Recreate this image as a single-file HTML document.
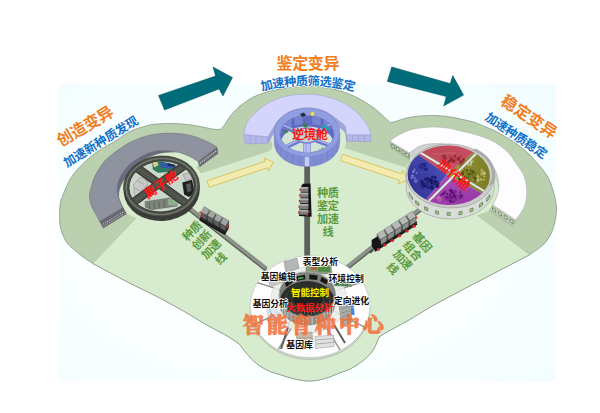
<!DOCTYPE html><html><head><meta charset="utf-8"><title>diagram</title><style>html,body{margin:0;padding:0;background:#fff;font-family:"Liberation Sans",sans-serif}svg{display:block}</style></head><body><svg width="600" height="413" viewBox="0 0 600 413"><defs><radialGradient id="bg" cx="0.45" cy="0.55" r="0.75"><stop offset="0" stop-color="#ffffff"/><stop offset="0.5" stop-color="#fbffff"/><stop offset="1" stop-color="#f2fdff"/></radialGradient><pattern id="gtex" width="3" height="3" patternUnits="userSpaceOnUse"><rect width="3" height="3" fill="#9195a2"/><path d="M0 0L3 3M3 0L0 3" stroke="#888c99" stroke-width="0.5"/></pattern><radialGradient id="qr" cx="0.5" cy="0.7" r="0.7"><stop offset="0" stop-color="#c04858"/><stop offset="1" stop-color="#d2687a"/></radialGradient><radialGradient id="qb" cx="0.6" cy="0.6" r="0.7"><stop offset="0" stop-color="#2a2a88"/><stop offset="0.6" stop-color="#4a4fb8"/><stop offset="1" stop-color="#8088d8"/></radialGradient><radialGradient id="qo" cx="0.4" cy="0.5" r="0.7"><stop offset="0" stop-color="#6f6f1e"/><stop offset="0.6" stop-color="#9a9a3c"/><stop offset="1" stop-color="#c0c080"/></radialGradient><radialGradient id="qp" cx="0.5" cy="0.4" r="0.7"><stop offset="0" stop-color="#8e30a0"/><stop offset="0.6" stop-color="#aa4cb8"/><stop offset="1" stop-color="#c67ad4"/></radialGradient></defs><rect x="58.8" y="83.7" width="497.2" height="297.8" fill="url(#bg)"/>
<path d="M92.7 263.5C91.2 262.5 87 259.9 84 257.7C81 255.4 77.3 252.6 74.4 250C71.5 247.4 68.9 245.9 66.6 242.3C64.3 238.8 62 233.2 60.8 228.7C59.6 224.1 59.6 219.4 59.6 215C59.6 210.6 59.9 205.3 60.5 202C61.1 198.7 61.7 198.2 63 195C64.3 191.8 66.1 186.8 68.3 182.7C70.5 178.6 73 174.7 76.3 170.7C79.6 166.7 84.1 162.4 88.3 158.7C92.5 155 97.2 151.6 101.7 148.7C106.2 145.8 110.3 144.2 115 141.3C119.7 138.4 124.9 134.1 130 131.5C135.1 128.9 141.9 127.2 145.8 126C149.8 124.8 149.7 124.7 153.7 124.3C157.7 123.9 164.3 123.5 169.6 123.5C174.9 123.5 180.1 123.8 185.4 124.3C190.7 124.8 196.4 125.9 201.2 126.7C206 127.5 210.8 128.9 214 129.3C217.2 129.7 219.4 129.3 220.5 129.3C221.2 128.5 223.7 126.1 225 124.3C226.3 122.5 227 120.6 228.5 118.5C230 116.4 232.1 113.9 234 111.8C235.9 109.7 237.9 107.8 240 106C242.1 104.2 244.5 102.5 246.8 101C249.1 99.5 251.3 98 253.6 96.9C255.8 95.8 258.1 95.1 260.3 94.2C262.6 93.3 264.8 92.5 267.1 91.8C269.4 91.1 271.8 90.5 273.9 90.1C276 89.6 277.3 89.5 280 89.1C282.7 88.7 286.7 87.9 290 87.5C293.3 87.1 296.7 86.8 300 86.6C303.3 86.4 306.3 86.1 310 86.2C313.7 86.3 317.8 86.4 322 87C326.2 87.6 331.1 88.7 335 89.6C338.9 90.5 341.8 91.4 345.2 92.6C348.6 93.8 351.9 95.1 355.3 96.7C358.7 98.3 362.1 100.2 365.5 102.3C368.9 104.4 372.6 107 375.7 109.4C378.8 111.8 381.4 114.4 383.8 116.6C386.2 118.8 389.3 121.7 390.4 122.7C391.2 122.5 392 122.5 395 121.6C398 120.7 404.1 118.5 408.6 117.5C413.1 116.5 417.6 116.2 422.1 115.9C426.6 115.6 431.2 115.3 435.7 115.5C440.2 115.7 444.7 116.1 449.2 116.8C453.7 117.5 458.5 118.5 462.8 119.5C467.1 120.5 472.1 121.6 475 122.5C477.9 123.4 477.6 123.7 480.2 124.7C482.8 125.8 486.9 127.3 490.3 128.8C493.7 130.3 497.1 132 500.5 133.9C503.9 135.8 507.3 137.8 510.7 140C514.1 142.2 517.9 144.8 520.9 147.1C523.9 149.4 526.5 151.6 529 154C531.5 156.4 533.3 158.8 535.6 161.4C537.9 164 540.7 167 542.7 169.6C544.7 172.2 546.2 174.1 547.8 177C549.3 179.9 550.6 182.7 552 187C553.4 191.3 555.3 198.2 556 203C556.7 207.8 556.7 210.9 556 215.7C555.3 220.4 554 226.8 552 231.5C550 236.2 547.7 240.1 544 244C540.3 247.9 532.1 252.9 529.7 254.7L460 291L432 306L409 320L386 332.5L379 337C378.2 338.8 376.4 344.2 374.5 347.5C372.6 350.8 371.1 353.4 367.6 356.7C364.2 359.9 358.4 364.3 353.8 367C349.2 369.7 344.8 370.9 340 372.8C335.2 374.7 330 377.1 325 378.5C320 379.9 315 380.9 310 381C305 381.1 300 380.1 295 379C290 377.9 284.5 376 280 374.6C275.5 373.2 271.9 372.3 268 370.5C264.1 368.7 260 366.3 256.6 363.6C253.2 360.9 250.3 357.7 247.4 354.4C244.5 351.1 240.7 345.7 239.3 344L229 337L206 324.5L183 310.7L160 298L130 283.3Z" fill="#bbd0ae" stroke="#808d7d" stroke-width="0.7" stroke-linejoin="round"/>
<path d="M92.7 263.5L136 218L126.6 213.7C123.5 212.2 112.1 210.6 108 205C103.9 199.4 100 188.8 102 180C104 171.2 109.5 158.5 120 152C130.5 145.5 151.7 141.3 165 141C178.3 140.7 194.3 146 200 150C205.7 154 199.2 162.5 199 165L196 167L201 173.5L268 151.6C268.6 151.2 270.8 150.4 271.5 149C272.2 147.6 272.6 145 272 143C271.4 141 268.7 138 268 137C268.7 134.5 268 127.2 272 122C276 116.8 283.7 108.7 292 106C300.3 103.3 313.7 103.7 322 106C330.3 108.3 337.9 114.1 342 120C346.1 125.9 345.8 137.9 346.6 141.5L344.5 148L405.5 167.5L410 161.5L409.5 159C411.2 157 414.2 150.7 420 147C425.8 143.3 435.7 138 444 137C452.3 136 462 137.2 470 141C478 144.8 486.5 152.7 492 160C497.5 167.3 502.2 178.3 503 185C503.8 191.7 499.3 195.7 497 200C494.7 204.3 490.7 208.9 489.4 210.7L477.4 215.5L529.7 254.7L460 291L432 306L409 320L386 332.5L379 337C378.2 338.8 376.4 344.2 374.5 347.5C372.6 350.8 371.1 353.4 367.6 356.7C364.2 359.9 358.4 364.3 353.8 367C349.2 369.7 344.8 370.9 340 372.8C335.2 374.7 330 377.1 325 378.5C320 379.9 315 380.9 310 381C305 381.1 300 380.1 295 379C290 377.9 284.5 376 280 374.6C275.5 373.2 271.9 372.3 268 370.5C264.1 368.7 260 366.3 256.6 363.6C253.2 360.9 250.3 357.7 247.4 354.4C244.5 351.1 240.7 345.7 239.3 344L229 337L206 324.5L183 310.7L160 298L130 283.3Z" fill="#d7ecce"/>
<path d="M92.7 263.5L136 218M477.4 215.5L529.7 254.7" stroke="#a9bba2" stroke-width="0.5" fill="none"/>
<path d="M529.7 254.7L460 291L432 306L409 320L386 332.5L379 337C378.2 338.8 376.4 344.2 374.5 347.5C372.6 350.8 371.1 353.4 367.6 356.7C364.2 359.9 358.4 364.3 353.8 367C349.2 369.7 344.8 370.9 340 372.8C335.2 374.7 330 377.1 325 378.5C320 379.9 315 380.9 310 381C305 381.1 300 380.1 295 379C290 377.9 284.5 376 280 374.6C275.5 373.2 271.9 372.3 268 370.5C264.1 368.7 260 366.3 256.6 363.6C253.2 360.9 250.3 357.7 247.4 354.4C244.5 351.1 240.7 345.7 239.3 344L229 337L206 324.5L183 310.7L160 298L130 283.3L92.7 263.5" fill="none" stroke="#808d7d" stroke-width="0.6"/>
<path d="M209.2 187.2L267.4 167.8L268.5 171.2L273.3 162.2L264.1 158L265.2 161.4L207 180.8Z" fill="#f3ecb2" stroke="#d8b946" stroke-width="0.8"/>
<path d="M340.5 160.7L399.6 180.3L398.4 183.9L407.8 179.5L402.9 170.4L401.7 174L342.7 154.3Z" fill="#f3ecb2" stroke="#d8b946" stroke-width="0.8"/>
<path d="M158.5 95.5L215.5 76L213 67L232.5 77.5L223 96L219 89L164.5 110Z" fill="#006c79" stroke="#00525c" stroke-width="0.5"/>
<path d="M391.7 66.9L450.2 83.6L452.8 75.6L463.6 95.1L443.7 105.9L446.3 96.6L387.3 81.4Z" fill="#006c79" stroke="#00525c" stroke-width="0.5"/>
<path d="M184.9 208.2L264.9 271.2L267.1 268.4L187.1 205.4Z" fill="#50534e"/><path d="M184.9 206.9L264.9 269.9L267.1 267.1L187.1 204.1Z" fill="#8d928b" stroke="#5c605a" stroke-width="0.4"/>
<path d="M304.7 163L304.7 257L309.7 257L309.7 163Z" fill="#3a3c3a"/><path d="M304.7 163L304.7 257L309.7 257L309.7 163Z" fill="#5d605d" stroke="#5c605a" stroke-width="0.4"/>
<path d="M423.9 204.9L344.9 267.9L347.1 270.7L426.1 207.7Z" fill="#50534e"/><path d="M423.9 203.6L344.9 266.6L347.1 269.4L426.1 206.4Z" fill="#8d928b" stroke="#5c605a" stroke-width="0.4"/>
<path d="M217 147.3L198 161.5L199.7 166.8L217.9 153.6Z" fill="#6c6c76" stroke="#55555e" stroke-width="0.4"/>
<path d="M200 163.2L217 150.5" stroke="#e8e8ee" stroke-width="1.5" stroke-dasharray="0.9 1.5" fill="none"/>
<path d="M99.7 221.4L122.9 207.6L126.6 213.7L103.3 227.9Z" fill="#686872" stroke="#55555e" stroke-width="0.4"/>
<path d="M102.8 224.2L124.6 211.2" stroke="#e8e8ee" stroke-width="1" stroke-dasharray="1 1.5" fill="none"/>
<path d="M103.6 226L125.6 212.9" stroke="#c8c8d0" stroke-width="0.5" fill="none"/>
<path d="M177.5 152C174.9 151.8 166.4 150.4 161.7 150.5C156.9 150.6 152.9 151.5 149 152.8C145.1 154.1 141.2 156.5 138 158.4C134.8 160.3 132.5 161.7 130 164C127.5 166.3 124.9 169.2 123 172C121.1 174.8 119.5 178.2 118.5 181C117.5 183.8 117.2 186.3 117.2 189C117.2 191.7 117.6 194.3 118.6 197.4C119.5 200.5 122.2 205.9 122.9 207.6L124.4 214.6C123.7 212.9 121 207.5 120.1 204.4C119.1 201.3 118.7 198.7 118.7 196C118.7 193.3 119 190.8 120 188C121 185.2 122.6 181.8 124.5 179C126.4 176.2 129.2 173.4 131.5 171C133.8 168.6 135.1 166.7 138 164.4C140.9 162.1 145.1 159.2 149 157.3C152.9 155.4 156.9 153.9 161.7 153C166.4 152.1 174.9 152.2 177.5 152Z" fill="#686c7c" stroke="#50505a" stroke-width="0.3"/>
<path d="M99.7 221.4C99 220.1 96.8 216.2 95.3 213.4C93.8 210.6 92 207.8 91 204.7C90 201.6 89.4 198.1 89.5 195C89.6 191.9 90.6 189.2 91.5 186C92.4 182.8 93.4 179.3 95 176C96.6 172.7 99 168.9 101 166C103 163.1 104 161.5 107 158.7C110 155.9 115.2 152 119 149.3C122.8 146.6 125.5 144.7 130 142.5C134.5 140.3 140.5 137.7 145.8 136.2C151.1 134.7 156.4 133.9 161.7 133.5C167 133.1 172.2 133.1 177.5 133.5C182.8 133.9 188 134.7 193.3 136.2C198.6 137.7 205.2 140.7 209.2 142.5C213.1 144.3 215.7 146.5 217 147.3L198 161.5C196.7 160.7 193.6 158.4 190.2 156.8C186.8 155.2 182.2 153.1 177.5 152C172.8 150.9 166.4 150.4 161.7 150.5C156.9 150.6 152.9 151.5 149 152.8C145.1 154.1 141.2 156.5 138 158.4C134.8 160.3 132.5 161.7 130 164C127.5 166.3 124.9 169.2 123 172C121.1 174.8 119.5 178.2 118.5 181C117.5 183.8 117.2 186.3 117.2 189C117.2 191.7 117.6 194.3 118.6 197.4C119.5 200.5 122.2 205.9 122.9 207.6Z" fill="url(#gtex)" stroke="#62626c" stroke-width="0.5"/>
<path d="M243.8 134.5L268 136.8L267.5 143.6L245 143.8Z" fill="#b3b6e6" stroke="#8f93c8" stroke-width="0.4"/>
<path d="M250 135.2V143.7M256 135.7V143.7M262 136.3V143.6" stroke="#8f93c8" stroke-width="0.5"/>
<path d="M346.6 134.7L370.8 134.7L370.8 141.5L346.6 141.5Z" fill="#b3b6e6" stroke="#8f93c8" stroke-width="0.4"/>
<path d="M352.5 134.7V141.5M358.5 134.7V141.5M364.5 134.7V141.5" stroke="#8f93c8" stroke-width="0.5"/>
<path d="M346.6 134.7C346.3 133.2 346.1 128.2 345 126C343.9 123.8 341.7 122.9 340 121.5C338.3 120.1 337 119 335 117.6C333 116.1 330.5 114.1 328 112.8C325.5 111.5 323.8 110.3 320 109.5C316.2 108.7 310 107.6 305 108C300 108.4 294.3 110.1 290 112C285.7 113.9 281.9 116.7 279 119.5C276.1 122.3 274.3 126.1 272.5 129C270.7 131.9 268.8 135.5 268 136.8L268 143.3C268.8 142 270.7 138.4 272.5 135.5C274.3 132.6 276.1 128.8 279 126C281.9 123.2 285.7 120.4 290 118.5C294.3 116.6 300 114.9 305 114.5C310 114.1 316.2 115.2 320 116C323.8 116.8 325.5 118 328 119.3C330.5 120.6 333 122.6 335 124.1C337 125.5 338.3 126.6 340 128C341.7 129.4 343.9 130.3 345 132.5C346.1 134.7 346.3 139.8 346.6 141.2Z" fill="#9ea4dc" stroke="#8f93c8" stroke-width="0.3"/>
<path d="M243.8 134.5C244.2 132.8 245.3 126.9 246.5 124C247.7 121.1 249.3 119 251 117C252.7 115 255.1 113.4 256.6 112C258.2 110.6 258.6 109.8 260.3 108.4C262.1 107 264.8 105.1 267.1 103.7C269.4 102.3 271.8 101.3 273.9 100.3C276 99.3 277.3 98.7 280 97.9C282.7 97.1 286.7 96.1 290 95.5C293.3 94.9 296.3 94.7 300 94.5C303.7 94.3 308 94.2 312 94.4C316 94.7 320.2 95.2 324 96C327.8 96.8 331.5 98 335 99.3C338.5 100.6 341.8 101.8 345.2 103.8C348.6 105.8 352.4 108.5 355.3 111C358.2 113.5 360.6 116.4 362.5 118.6C364.4 120.8 365.3 122.3 366.5 124.2C367.7 126.1 368.8 128.2 369.5 130C370.2 131.8 370.6 133.9 370.8 134.7L346.6 134.7C346.3 133.2 346.1 128.2 345 126C343.9 123.8 341.7 122.9 340 121.5C338.3 120.1 337 119 335 117.6C333 116.1 330.5 114.1 328 112.8C325.5 111.5 323.8 110.3 320 109.5C316.2 108.7 310 107.6 305 108C300 108.4 294.3 110.1 290 112C285.7 113.9 281.9 116.7 279 119.5C276.1 122.3 274.3 126.1 272.5 129C270.7 131.9 268.8 135.5 268 136.8Z" fill="#d5d4fd" stroke="#9a9cd0" stroke-width="0.5"/>
<path d="M492.7 205C493.4 203.5 495.9 199.3 497 196C498.1 192.7 499.2 189 499 185C498.8 181 497.7 175.8 496 172C494.3 168.2 492.5 165 489 162C485.5 159 479.4 156.4 475 154.1C470.6 151.8 467.1 149.6 462.8 148C458.5 146.4 453.7 145.3 449.2 144.6C444.7 143.8 440.2 143.4 435.7 143.5C431.2 143.6 426.2 144 422.1 145.3C418 146.6 413.4 150.1 411.3 151.4C409.2 152.7 409.8 152.7 409.5 153L409.5 159C409.8 158.7 409.2 158.7 411.3 157.4C413.4 156.1 418 152.6 422.1 151.3C426.2 150 431.2 149.6 435.7 149.5C440.2 149.4 444.7 149.8 449.2 150.6C453.7 151.3 458.5 152.4 462.8 154C467.1 155.6 470.6 157.8 475 160.1C479.4 162.4 485.5 165 489 168C492.5 171 494.3 174.2 496 178C497.7 181.8 498.8 187 499 191C499.2 195 498.1 198.7 497 202C495.9 205.3 493.4 209.5 492.7 211Z" fill="#cfd2cf" stroke="#a8aca8" stroke-width="0.3"/>
<path d="M390.2 141.5L409.5 153L409.5 159.6L391 147.8Z" fill="#c2ccbc" stroke="#7d877a" stroke-width="0.4"/>
<rect x="391.8" y="144.8" width="3" height="3" fill="#cfe0c2" stroke="#56764a" stroke-width="0.6" transform="translate(393.3 146.3) skewY(31) translate(-393.3 -146.3)"/>
<rect x="396.4" y="147.7" width="3" height="3" fill="#cfe0c2" stroke="#56764a" stroke-width="0.6" transform="translate(397.9 149.2) skewY(31) translate(-397.9 -149.2)"/>
<rect x="401.1" y="150.6" width="3" height="3" fill="#cfe0c2" stroke="#56764a" stroke-width="0.6" transform="translate(402.6 152.1) skewY(31) translate(-402.6 -152.1)"/>
<rect x="405.7" y="153.5" width="3" height="3" fill="#cfe0c2" stroke="#56764a" stroke-width="0.6" transform="translate(407.2 155) skewY(31) translate(-407.2 -155)"/>
<path d="M492.7 205L515.6 219.9L513.4 226.4L489.4 210.7Z" fill="#c2ccbc" stroke="#7d877a" stroke-width="0.4"/>
<rect x="492.6" y="208.4" width="3" height="3" fill="#cfe0c2" stroke="#56764a" stroke-width="0.6" transform="translate(494.1 209.9) skewY(33) translate(-494.1 -209.9)"/>
<rect x="498.4" y="212.2" width="3" height="3" fill="#cfe0c2" stroke="#56764a" stroke-width="0.6" transform="translate(499.9 213.7) skewY(33) translate(-499.9 -213.7)"/>
<rect x="504.2" y="215.9" width="3" height="3" fill="#cfe0c2" stroke="#56764a" stroke-width="0.6" transform="translate(505.7 217.4) skewY(33) translate(-505.7 -217.4)"/>
<rect x="510" y="219.7" width="3" height="3" fill="#cfe0c2" stroke="#56764a" stroke-width="0.6" transform="translate(511.5 221.2) skewY(33) translate(-511.5 -221.2)"/>
<path d="M390.2 141.5C391 140.8 391.9 139 395 137.2C398.1 135.3 404.1 132 408.6 130.4C413.1 128.8 417.6 128.3 422.1 127.7C426.6 127.1 431.2 126.9 435.7 127C440.2 127.1 444.7 127.6 449.2 128.3C453.7 129.1 458.5 130.5 462.8 131.5C467.1 132.5 470.4 133.1 475 134.5C479.6 135.9 486.1 138.1 490.3 140C494.6 141.9 497.3 143.8 500.5 146.1C503.7 148.4 507 151.3 509.5 154C512 156.7 513.5 159.9 515.3 162.5C517.1 165.1 518.8 167.2 520.3 169.6C521.8 172 523.4 174.1 524.4 177C525.4 179.9 526.1 183.5 526.4 187C526.7 190.5 526.9 194.3 526.4 198C525.9 201.7 525 205.3 523.2 209C521.4 212.7 516.9 218.1 515.6 219.9L492.7 205C493.4 203.5 495.9 199.3 497 196C498.1 192.7 499.2 189 499 185C498.8 181 497.7 175.8 496 172C494.3 168.2 492.5 165 489 162C485.5 159 479.4 156.4 475 154.1C470.6 151.8 467.1 149.6 462.8 148C458.5 146.4 453.7 145.3 449.2 144.6C444.7 143.8 440.2 143.4 435.7 143.5C431.2 143.6 426.2 144 422.1 145.3C418 146.6 413.4 150.1 411.3 151.4C409.2 152.7 409.8 152.7 409.5 153Z" fill="#fdfcff" stroke="#a7aaa7" stroke-width="0.5"/>
<g transform="rotate(-4 161.5 186.5)">
<ellipse cx="161.5" cy="190.5" rx="38" ry="30.5" fill="#3b3e39"/>
<ellipse cx="161.5" cy="186.5" rx="38" ry="30.5" fill="#494d46" stroke="#2a2d29" stroke-width="0.6"/>
<ellipse cx="161.5" cy="186.5" rx="32.6" ry="25.4" fill="#cad7c9" stroke="#2f322e" stroke-width="0.8"/>
<clipPath id="lp"><ellipse cx="161.5" cy="186.5" rx="32.6" ry="25.4"/></clipPath>
<g clip-path="url(#lp)">
<path d="M154 163L160 160.5L177 166L176 172.5L159 172.5L154 169Z" fill="#2f7a60"/>
<path d="M162 161.5L175 165.5L175 170L162 167.5Z" fill="#3457a8"/>
<path d="M154.5 162L159 160.5L160 165L155.5 167Z" fill="#d9c98e"/>
<path d="M169 163.5L176.5 166L176.5 168L169 166Z" fill="#1d2a4a"/>
<path d="M134 182L141 176L148 180L147 192L140 197L134 193Z" fill="#c9c9c9" stroke="#8a8a8a" stroke-width="0.5"/>
<path d="M134.5 186L140.5 190L147.5 184M140.5 190V196.5M137.5 179L144 183" stroke="#8a8a8a" stroke-width="0.5" fill="none"/>
<path d="M184 176L190 175L192.5 181L186 182.5Z" fill="#c4c4c4" stroke="#777" stroke-width="0.4"/>
<path d="M182.5 184L192.5 182L194 195L188 199L183.5 196Z" fill="#1f2120"/>
<path d="M186 186L191 185V193L187 194Z" fill="#555b58"/>
<path d="M144 200.5L168 198.5L176 201L176 207L150 209L144 206Z" fill="#7d857b" stroke="#4b4f49" stroke-width="0.4"/>
<path d="M167 199.5L176 201L176 206.5L167 206Z" fill="#8fb08a"/>
<path d="M148 201.5V208M153 201V208.5M158 200.5V208M163 200V207.5" stroke="#4b4f49" stroke-width="0.6"/>
<path d="M134 162.5L189 208.5M192.5 163L127 203.5" stroke="#2b2e2a" stroke-width="8.4" fill="none"/>
<path d="M134 162.5L189 208.5M192.5 163L127 203.5" stroke="#4d514a" stroke-width="6.6" fill="none"/>
<path d="M134 162.5L189 208.5M192.5 163L127 203.5" stroke="#6b7068" stroke-width="1" stroke-dasharray="1 2" fill="none"/>
</g>
<ellipse cx="161.5" cy="186.5" rx="35.4" ry="28" fill="none" stroke="#6b7067" stroke-width="1.6"/>
<ellipse cx="161.5" cy="186.5" rx="35.4" ry="28" fill="none" stroke="#9aa095" stroke-width="0.7" stroke-dasharray="0.8 2.4"/>
</g>
<path d="M274.3 133 V142.5 A32.7 24 0 0 0 339.7 142.5 V133Z" fill="#808cd3" stroke="#6d79c0" stroke-width="0.5"/>
<ellipse cx="307" cy="132.5" rx="32.7" ry="24.5" fill="#919de1" stroke="#6f7bc4" stroke-width="0.5"/>
<ellipse cx="307" cy="134" rx="27" ry="18.6" fill="#d3e4d6" stroke="#6d79c0" stroke-width="0.6"/>
<clipPath id="cp"><ellipse cx="307" cy="134" rx="27" ry="18.6"/></clipPath>
<g clip-path="url(#cp)">
<path d="M280 134 A27 18.6 0 0 1 334 134 L334 145 A27 18.6 0 0 0 280 145Z" fill="#5f6cc2"/>
<path d="M284 122.5l8-4.5v9l-8 4zM294 117l9-1.6v9l-9 1.6zM312 115.4l9 1.6v9l-9-1.6zM323 118l8 4.5v8.5l-8-4z" fill="#7683d2" stroke="#4f5cb0" stroke-width="0.4"/>
<path d="M307 137L279 124M307 137L335 123M307 137L280 150M307 137L336 148" stroke="#6f7ccb" stroke-width="4.4" fill="none"/>
<path d="M307 136L279 123M307 136L335 122M307 136L280 149M307 136L336 147" stroke="#aab4ee" stroke-width="1.4" fill="none"/>
<path d="M303.5 138V160H310.5V138Z" fill="#b4bdf0" stroke="#6d79c0" stroke-width="0.5"/>
<path d="M306 140V160" stroke="#8a95d6" stroke-width="0.6"/>
<ellipse cx="307" cy="135.5" rx="12" ry="7.5" fill="#c4d4d8" stroke="#7a86d0" stroke-width="1.6"/>
<path d="M304.8 127.5l-3.4-4.6 3 2.6 .4-5 .9 5 3-3-2 5z" fill="#2f7d32"/>
<path d="M285.3 133l-3.4-4 3 2.2 .4-4.6 .9 4.6 3-2.8-2 4.6z" fill="#3c8a3c"/>
<path d="M322 152.5l-3.4-4 3 2.2 .4-4.6 .9 4.6 3-2.8-2 4.6z" fill="#2f7d32"/>
<path d="M320.5 126.5l5.5-2 5 5.5-7 1z" fill="#2a9bb0"/>
</g>
<circle cx="312.5" cy="113.8" r="2.2" fill="#f2e26a" stroke="#8c8a50" stroke-width="0.4"/>
<path d="M300 114L304 112.5L306 115.5L302 117Z" fill="#2a2e3a"/>
<path d="M336.6 142.9V151.9" stroke="#6d79c0" stroke-width="0.45"/>
<path d="M332.8 147.6V156.6" stroke="#6d79c0" stroke-width="0.45"/>
<path d="M327.6 151.5V160.5" stroke="#6d79c0" stroke-width="0.45"/>
<path d="M321.3 154.5V163.5" stroke="#6d79c0" stroke-width="0.45"/>
<path d="M314.4 156.4V165.4" stroke="#6d79c0" stroke-width="0.45"/>
<path d="M307 157V166" stroke="#6d79c0" stroke-width="0.45"/>
<path d="M299.6 156.4V165.4" stroke="#6d79c0" stroke-width="0.45"/>
<path d="M292.7 154.5V163.5" stroke="#6d79c0" stroke-width="0.45"/>
<path d="M286.4 151.5V160.5" stroke="#6d79c0" stroke-width="0.45"/>
<path d="M281.2 147.6V156.6" stroke="#6d79c0" stroke-width="0.45"/>
<path d="M277.4 142.9V151.9" stroke="#6d79c0" stroke-width="0.45"/>
<path d="M304.5 157V166.5H309.5V157" fill="#c5ccf4" stroke="#6d79c0" stroke-width="0.4"/>
<path d="M406.2 175.5 V186.5 A44 31.5 0 0 0 494.2 188.5 V177Z" fill="#d9ddd8" stroke="#8b908a" stroke-width="0.5"/>
<ellipse cx="450.2" cy="176" rx="44" ry="32" fill="#c9ccc9" stroke="#8b908a" stroke-width="0.5" transform="rotate(2 450 175)"/>
<clipPath id="rp"><ellipse cx="448.8" cy="175.3" rx="41.2" ry="29.7" transform="rotate(2 450 175)"/></clipPath>
<g clip-path="url(#rp)">
<path d="M447 174.8L336.2 96.8L542.2 94Z" fill="url(#qr)"/>
<path d="M447 174.8L336.2 96.8L367.8 268.4Z" fill="url(#qb)"/>
<path d="M447 174.8L542.2 94L602.2 257.6Z" fill="url(#qo)"/>
<path d="M447 174.8L367.8 268.4L602.2 257.6Z" fill="url(#qp)"/>
<g opacity="0.85"><circle cx="428.4" cy="185.4" r="1.5" fill="#15155e"/><circle cx="431.2" cy="181.1" r="1.4" fill="#1d1d74"/><circle cx="435.8" cy="184.1" r="0.8" fill="#15155e"/><circle cx="427.9" cy="182.5" r="1.4" fill="#1d1d74"/><circle cx="425.3" cy="179.1" r="0.8" fill="#101048"/><circle cx="434" cy="184" r="1.4" fill="#1d1d74"/><circle cx="429.2" cy="185.6" r="0.8" fill="#2a2a8c"/><circle cx="423.1" cy="180.9" r="0.8" fill="#1d1d74"/><circle cx="425.4" cy="186.7" r="0.8" fill="#15155e"/><circle cx="425.4" cy="179.6" r="1.3" fill="#2a2a8c"/><circle cx="421.6" cy="184.4" r="1.1" fill="#1d1d74"/><circle cx="432.1" cy="177.4" r="1" fill="#2a2a8c"/><circle cx="421.7" cy="182" r="1.6" fill="#2a2a8c"/><circle cx="428.1" cy="181.8" r="1.3" fill="#1d1d74"/><circle cx="430.2" cy="180.3" r="1.3" fill="#15155e"/><circle cx="432.4" cy="182.5" r="1.4" fill="#2a2a8c"/><circle cx="427.1" cy="186.5" r="1.3" fill="#101048"/><circle cx="432.5" cy="183.9" r="1" fill="#15155e"/><circle cx="437" cy="185.2" r="1.5" fill="#101048"/><circle cx="428.8" cy="187.2" r="1.5" fill="#15155e"/><circle cx="435" cy="181.5" r="1.4" fill="#101048"/><circle cx="437.4" cy="185.2" r="0.9" fill="#1d1d74"/><circle cx="423.1" cy="187" r="1.3" fill="#1d1d74"/><circle cx="423.7" cy="184.6" r="1.8" fill="#101048"/><circle cx="433.1" cy="180.2" r="1.2" fill="#2a2a8c"/><circle cx="427.7" cy="179.1" r="1" fill="#15155e"/><circle cx="431.9" cy="186" r="1" fill="#101048"/><circle cx="431.9" cy="180.4" r="1" fill="#1d1d74"/><circle cx="425.2" cy="185.1" r="1.4" fill="#1d1d74"/><circle cx="427.6" cy="178.3" r="1.4" fill="#15155e"/><circle cx="421.9" cy="184.8" r="1.8" fill="#101048"/><circle cx="425.5" cy="185.6" r="1.3" fill="#101048"/><circle cx="432.2" cy="183.7" r="1" fill="#1d1d74"/><circle cx="435.4" cy="186.5" r="0.8" fill="#1d1d74"/><circle cx="421.5" cy="181.4" r="1.4" fill="#15155e"/><circle cx="435" cy="179.1" r="0.9" fill="#2a2a8c"/><circle cx="436.7" cy="181.5" r="1.3" fill="#15155e"/><circle cx="435.2" cy="177.3" r="1.3" fill="#101048"/><circle cx="428.7" cy="185.5" r="1.6" fill="#2a2a8c"/><circle cx="422.6" cy="183.8" r="1.3" fill="#1d1d74"/><circle cx="436.2" cy="181.5" r="0.9" fill="#15155e"/><circle cx="430.3" cy="179.2" r="1.5" fill="#15155e"/><circle cx="428.5" cy="179.6" r="1.1" fill="#1d1d74"/><circle cx="427.4" cy="185.6" r="1.3" fill="#2a2a8c"/><circle cx="425.4" cy="178.9" r="1.6" fill="#1d1d74"/><circle cx="432.8" cy="177.1" r="1.6" fill="#1d1d74"/><circle cx="432" cy="187.7" r="1.6" fill="#15155e"/><circle cx="431.5" cy="178.3" r="0.9" fill="#2a2a8c"/><circle cx="421.8" cy="185.2" r="1.9" fill="#2a2a8c"/><circle cx="432.5" cy="184.1" r="1.3" fill="#2a2a8c"/><circle cx="432" cy="188.3" r="1.8" fill="#15155e"/><circle cx="422.8" cy="183.7" r="1.7" fill="#15155e"/><circle cx="431.6" cy="180.9" r="1.2" fill="#1d1d74"/><circle cx="426.2" cy="183.4" r="1.6" fill="#2a2a8c"/><circle cx="437.5" cy="186.5" r="1.6" fill="#101048"/><circle cx="422.9" cy="187" r="1.6" fill="#1d1d74"/><circle cx="431.5" cy="182.9" r="1.4" fill="#101048"/><circle cx="431.2" cy="180.5" r="1.7" fill="#101048"/><circle cx="427.1" cy="179.5" r="1.4" fill="#1d1d74"/><circle cx="438" cy="183.8" r="1.6" fill="#15155e"/></g>
<g opacity="0.85"><circle cx="419.7" cy="166.4" r="1.2" fill="#1d1d74"/><circle cx="425" cy="165.4" r="1" fill="#2a2a8c"/><circle cx="420.1" cy="167" r="1.1" fill="#3a3aa0"/><circle cx="422.6" cy="167.7" r="1.8" fill="#2a2a8c"/><circle cx="426.9" cy="165" r="1.7" fill="#3a3aa0"/><circle cx="420.2" cy="168.8" r="1.3" fill="#3a3aa0"/><circle cx="425.9" cy="169.3" r="1.7" fill="#1d1d74"/><circle cx="420.9" cy="164.8" r="0.9" fill="#1d1d74"/><circle cx="420.2" cy="167.6" r="1.4" fill="#2a2a8c"/><circle cx="422.6" cy="164.3" r="1.3" fill="#1d1d74"/><circle cx="424.8" cy="166.4" r="0.9" fill="#1d1d74"/><circle cx="424.4" cy="164.2" r="1.4" fill="#1d1d74"/></g>
<g opacity="0.85"><circle cx="411.8" cy="177.9" r="1.3" fill="#7078d0"/><circle cx="413.3" cy="171.6" r="1.3" fill="#8890e0"/><circle cx="412.5" cy="175.8" r="1.3" fill="#8890e0"/><circle cx="416.5" cy="172.9" r="0.9" fill="#8890e0"/><circle cx="414.7" cy="177.9" r="1.2" fill="#7078d0"/><circle cx="413.1" cy="172" r="1" fill="#8890e0"/><circle cx="414.6" cy="169.5" r="0.9" fill="#8890e0"/><circle cx="415.8" cy="181.1" r="1.9" fill="#7078d0"/></g>
<g opacity="0.85"><circle cx="467.9" cy="174.5" r="1.8" fill="#66661c"/><circle cx="476.2" cy="176.5" r="0.9" fill="#3c3c08"/><circle cx="473.7" cy="176.8" r="1.2" fill="#7c7c2c"/><circle cx="464.8" cy="183.2" r="0.7" fill="#3c3c08"/><circle cx="466.9" cy="177.4" r="1.1" fill="#7c7c2c"/><circle cx="465.7" cy="176.8" r="1.9" fill="#66661c"/><circle cx="470.9" cy="176.5" r="1" fill="#4f4f10"/><circle cx="471.2" cy="175.1" r="1.6" fill="#3c3c08"/><circle cx="472.3" cy="171.7" r="1.8" fill="#3c3c08"/><circle cx="473.1" cy="183.2" r="1.4" fill="#7c7c2c"/><circle cx="469.8" cy="178" r="1.5" fill="#3c3c08"/><circle cx="471.7" cy="174.5" r="0.7" fill="#4f4f10"/><circle cx="468.8" cy="174.8" r="1.7" fill="#4f4f10"/><circle cx="467.7" cy="179.8" r="0.7" fill="#3c3c08"/><circle cx="472.2" cy="175.2" r="0.9" fill="#66661c"/><circle cx="476.2" cy="174" r="1" fill="#66661c"/><circle cx="469.5" cy="181.3" r="1.1" fill="#66661c"/><circle cx="466.4" cy="182.5" r="0.9" fill="#7c7c2c"/><circle cx="471" cy="169.5" r="0.7" fill="#4f4f10"/><circle cx="467.3" cy="171.1" r="0.9" fill="#3c3c08"/><circle cx="468.2" cy="182.3" r="1.5" fill="#3c3c08"/><circle cx="464.3" cy="172.1" r="1.8" fill="#7c7c2c"/><circle cx="464.6" cy="169.7" r="1.1" fill="#66661c"/><circle cx="463.6" cy="179.7" r="0.8" fill="#66661c"/><circle cx="475.1" cy="177.6" r="1.8" fill="#3c3c08"/><circle cx="469.4" cy="179" r="1.7" fill="#7c7c2c"/><circle cx="461.9" cy="173.1" r="0.8" fill="#66661c"/><circle cx="471.3" cy="181.5" r="1" fill="#7c7c2c"/><circle cx="474.6" cy="176" r="1" fill="#7c7c2c"/><circle cx="468.8" cy="180.4" r="1.1" fill="#4f4f10"/><circle cx="461.7" cy="177.9" r="0.9" fill="#4f4f10"/><circle cx="474.8" cy="180.9" r="0.9" fill="#4f4f10"/><circle cx="464.1" cy="179.7" r="1.5" fill="#4f4f10"/><circle cx="462.4" cy="174" r="1.6" fill="#3c3c08"/><circle cx="468.7" cy="170.2" r="1.3" fill="#7c7c2c"/><circle cx="466.8" cy="170.7" r="0.8" fill="#3c3c08"/><circle cx="467.2" cy="169.8" r="0.9" fill="#4f4f10"/><circle cx="471.2" cy="171.6" r="1.8" fill="#66661c"/><circle cx="469.6" cy="177.8" r="1.5" fill="#4f4f10"/><circle cx="463.7" cy="180.8" r="0.8" fill="#4f4f10"/><circle cx="462.8" cy="172.3" r="1.3" fill="#4f4f10"/><circle cx="465.7" cy="177.6" r="1.8" fill="#4f4f10"/><circle cx="466.8" cy="175.3" r="1.6" fill="#7c7c2c"/><circle cx="471" cy="170.1" r="1" fill="#66661c"/><circle cx="468.9" cy="183.4" r="1.3" fill="#3c3c08"/><circle cx="475.6" cy="180.5" r="1" fill="#4f4f10"/><circle cx="462.6" cy="172.7" r="0.8" fill="#66661c"/><circle cx="464.4" cy="182.6" r="1.5" fill="#66661c"/><circle cx="470.2" cy="177.2" r="1" fill="#4f4f10"/><circle cx="465.4" cy="170.9" r="1" fill="#7c7c2c"/><circle cx="462" cy="178.2" r="0.8" fill="#66661c"/><circle cx="467" cy="179.2" r="1.3" fill="#7c7c2c"/><circle cx="460.1" cy="178.8" r="1.9" fill="#3c3c08"/><circle cx="473.6" cy="176.8" r="1.8" fill="#66661c"/><circle cx="470.4" cy="178.1" r="1.6" fill="#7c7c2c"/><circle cx="471.1" cy="176.1" r="1.7" fill="#7c7c2c"/><circle cx="473.7" cy="172.6" r="1" fill="#3c3c08"/><circle cx="465.2" cy="179" r="1.8" fill="#3c3c08"/><circle cx="461.6" cy="180.8" r="1.2" fill="#3c3c08"/><circle cx="464.7" cy="183.7" r="0.7" fill="#7c7c2c"/></g>
<g opacity="0.85"><circle cx="481.7" cy="173.9" r="1.8" fill="#b0a850"/><circle cx="484.4" cy="176.4" r="1" fill="#c8c070"/><circle cx="477.9" cy="180.4" r="1.4" fill="#d8d088"/><circle cx="484.1" cy="173.3" r="1.7" fill="#d8d088"/><circle cx="483.9" cy="179.8" r="1" fill="#c8c070"/><circle cx="481" cy="179.6" r="1.3" fill="#c8c070"/><circle cx="481.5" cy="169.9" r="1.2" fill="#c8c070"/><circle cx="482.2" cy="170.9" r="1.8" fill="#b0a850"/><circle cx="477.8" cy="174.2" r="0.8" fill="#b0a850"/><circle cx="478.3" cy="178.9" r="0.9" fill="#d8d088"/><circle cx="477.2" cy="176.6" r="1.4" fill="#c8c070"/><circle cx="478.7" cy="176.7" r="1.1" fill="#b0a850"/></g>
<g opacity="0.85"><circle cx="471.7" cy="160.6" r="1.2" fill="#b8c090"/><circle cx="470.6" cy="165.1" r="1.2" fill="#b8c090"/><circle cx="471" cy="162.4" r="1.3" fill="#c8d0a0"/><circle cx="468.2" cy="162.4" r="1.1" fill="#c8d0a0"/><circle cx="468" cy="164" r="1" fill="#b8c090"/><circle cx="471" cy="163.8" r="1" fill="#c8d0a0"/><circle cx="473" cy="161.7" r="0.7" fill="#c8d0a0"/><circle cx="468.2" cy="164.7" r="1" fill="#c8d0a0"/></g>
<g opacity="0.85"><circle cx="450.6" cy="197.2" r="1" fill="#4a0c5e"/><circle cx="457.5" cy="198.8" r="1.5" fill="#70208a"/><circle cx="460.7" cy="198.9" r="1.2" fill="#8a30a0"/><circle cx="446.4" cy="197.3" r="1.7" fill="#5a1470"/><circle cx="457" cy="198.6" r="1.6" fill="#8a30a0"/><circle cx="459.5" cy="195.2" r="0.8" fill="#8a30a0"/><circle cx="457.4" cy="195.5" r="0.8" fill="#70208a"/><circle cx="458.3" cy="200.4" r="0.8" fill="#8a30a0"/><circle cx="460.3" cy="198.5" r="0.7" fill="#70208a"/><circle cx="453.2" cy="201.2" r="1.5" fill="#4a0c5e"/><circle cx="460.5" cy="195" r="1.3" fill="#8a30a0"/><circle cx="450.8" cy="194.3" r="0.8" fill="#70208a"/><circle cx="448" cy="197.7" r="1.4" fill="#5a1470"/><circle cx="441.3" cy="194.7" r="1" fill="#4a0c5e"/><circle cx="445.6" cy="191.9" r="1.3" fill="#70208a"/><circle cx="450.2" cy="195.7" r="1.2" fill="#4a0c5e"/><circle cx="456.6" cy="196.8" r="1.8" fill="#8a30a0"/><circle cx="456.6" cy="197.3" r="1.2" fill="#4a0c5e"/><circle cx="452.3" cy="197" r="1.1" fill="#8a30a0"/><circle cx="447.5" cy="198.6" r="0.7" fill="#4a0c5e"/><circle cx="451.5" cy="192.1" r="0.9" fill="#70208a"/><circle cx="448.2" cy="200.6" r="1" fill="#70208a"/><circle cx="451" cy="201.2" r="0.8" fill="#8a30a0"/><circle cx="444" cy="192.7" r="1.3" fill="#5a1470"/><circle cx="456" cy="195.3" r="1.2" fill="#70208a"/><circle cx="460.4" cy="196.6" r="1.2" fill="#5a1470"/><circle cx="455" cy="199.4" r="1.6" fill="#4a0c5e"/><circle cx="450.8" cy="190.5" r="1.8" fill="#4a0c5e"/><circle cx="455.2" cy="200.1" r="1.3" fill="#8a30a0"/><circle cx="460.8" cy="196.9" r="1.2" fill="#4a0c5e"/><circle cx="459.3" cy="195.7" r="0.8" fill="#5a1470"/><circle cx="450.8" cy="199.2" r="1.8" fill="#5a1470"/><circle cx="443.1" cy="194.2" r="1.2" fill="#4a0c5e"/><circle cx="455.2" cy="192.7" r="0.8" fill="#8a30a0"/><circle cx="454.7" cy="199.8" r="1.2" fill="#4a0c5e"/><circle cx="445.1" cy="199.9" r="0.7" fill="#8a30a0"/><circle cx="452.1" cy="200.3" r="1.2" fill="#8a30a0"/><circle cx="454.7" cy="196.3" r="1.8" fill="#4a0c5e"/><circle cx="452.9" cy="197.3" r="1.4" fill="#4a0c5e"/><circle cx="450.5" cy="201.3" r="1.4" fill="#4a0c5e"/><circle cx="451.8" cy="191.4" r="1.8" fill="#4a0c5e"/><circle cx="461.6" cy="196.1" r="1.8" fill="#5a1470"/><circle cx="457.3" cy="196.4" r="1.3" fill="#8a30a0"/><circle cx="458.6" cy="195" r="1" fill="#8a30a0"/><circle cx="453.6" cy="194.2" r="1.3" fill="#5a1470"/><circle cx="455.1" cy="191.5" r="1.7" fill="#70208a"/><circle cx="447.1" cy="194" r="1.1" fill="#4a0c5e"/><circle cx="453.8" cy="191.9" r="1.3" fill="#8a30a0"/><circle cx="452.1" cy="193.3" r="0.8" fill="#5a1470"/><circle cx="443.9" cy="196.5" r="0.9" fill="#8a30a0"/><circle cx="460.1" cy="192.3" r="1" fill="#5a1470"/><circle cx="453.8" cy="199.4" r="1.9" fill="#8a30a0"/><circle cx="453.9" cy="197.8" r="1.3" fill="#70208a"/><circle cx="451.9" cy="190.9" r="1.5" fill="#5a1470"/><circle cx="453.1" cy="193.1" r="1" fill="#4a0c5e"/><circle cx="445.4" cy="199.4" r="0.9" fill="#70208a"/><circle cx="454.1" cy="198.5" r="1" fill="#70208a"/><circle cx="448.8" cy="199.1" r="1.9" fill="#70208a"/><circle cx="449.9" cy="194.6" r="1.3" fill="#5a1470"/><circle cx="458.1" cy="198.3" r="1.7" fill="#8a30a0"/></g>
<g opacity="0.85"><circle cx="437.7" cy="198.7" r="1.1" fill="#c060a0"/><circle cx="439.9" cy="199.7" r="1.7" fill="#c060a0"/><circle cx="439.2" cy="198.2" r="1.7" fill="#d070b0"/><circle cx="434.2" cy="197.4" r="1.5" fill="#c060a0"/><circle cx="439.4" cy="200.4" r="1.4" fill="#c060a0"/><circle cx="439.3" cy="199.4" r="0.8" fill="#d070b0"/><circle cx="440.3" cy="199.6" r="1.8" fill="#c060a0"/><circle cx="438.1" cy="197.3" r="1.1" fill="#d070b0"/></g>
<g opacity="0.85"><circle cx="449.6" cy="159.4" r="1.3" fill="#c04c5a"/><circle cx="450.9" cy="159.6" r="1.2" fill="#b03c4c"/><circle cx="446.1" cy="158" r="0.9" fill="#86202e"/><circle cx="443.5" cy="160.3" r="1.1" fill="#9a2c3c"/><circle cx="445.1" cy="162.1" r="1.1" fill="#c04c5a"/><circle cx="456.7" cy="159.4" r="1.7" fill="#b03c4c"/><circle cx="443.1" cy="160.8" r="1.8" fill="#c04c5a"/><circle cx="453.3" cy="157.3" r="1.7" fill="#c04c5a"/><circle cx="442.7" cy="157.7" r="1.6" fill="#b03c4c"/><circle cx="455.4" cy="159.3" r="1.5" fill="#c04c5a"/><circle cx="454.7" cy="160.9" r="1.1" fill="#b03c4c"/><circle cx="451.2" cy="160.9" r="1.3" fill="#9a2c3c"/><circle cx="453.4" cy="161" r="1.7" fill="#b03c4c"/><circle cx="445.1" cy="162.9" r="0.8" fill="#c04c5a"/><circle cx="444.9" cy="162.2" r="1.5" fill="#9a2c3c"/><circle cx="454.5" cy="157" r="1.7" fill="#b03c4c"/><circle cx="442.1" cy="155.8" r="1.4" fill="#b03c4c"/><circle cx="450" cy="157.3" r="1" fill="#c04c5a"/><circle cx="451.7" cy="158.3" r="1.1" fill="#b03c4c"/><circle cx="448.2" cy="162.8" r="1.8" fill="#9a2c3c"/><circle cx="454.8" cy="156.2" r="1.5" fill="#86202e"/><circle cx="453.7" cy="161.3" r="1.4" fill="#86202e"/><circle cx="444.7" cy="157" r="1" fill="#c04c5a"/><circle cx="444.4" cy="156.5" r="1.2" fill="#9a2c3c"/><circle cx="457.9" cy="159.1" r="1.3" fill="#c04c5a"/><circle cx="448.8" cy="155" r="1.2" fill="#b03c4c"/><circle cx="450.3" cy="156.4" r="0.8" fill="#86202e"/><circle cx="445.3" cy="159.6" r="1.2" fill="#9a2c3c"/><circle cx="451.5" cy="159.4" r="1.8" fill="#86202e"/><circle cx="449.2" cy="155.8" r="0.8" fill="#c04c5a"/><circle cx="442.9" cy="155.7" r="0.7" fill="#9a2c3c"/><circle cx="456.6" cy="158.9" r="1.7" fill="#b03c4c"/><circle cx="454.4" cy="162.1" r="1" fill="#b03c4c"/><circle cx="444.7" cy="155.5" r="1" fill="#86202e"/><circle cx="444.1" cy="157.6" r="1.1" fill="#86202e"/><circle cx="453.6" cy="157.3" r="1" fill="#c04c5a"/><circle cx="449.3" cy="161.2" r="1.3" fill="#86202e"/><circle cx="444.9" cy="160.4" r="1.2" fill="#86202e"/><circle cx="444" cy="155.2" r="0.9" fill="#86202e"/><circle cx="453.5" cy="161.2" r="1.5" fill="#86202e"/></g>
<g opacity="0.85"><circle cx="463.6" cy="159.4" r="1.3" fill="#86202e"/><circle cx="461" cy="162.9" r="1.7" fill="#9a2c3c"/><circle cx="460.6" cy="164" r="1.4" fill="#9a2c3c"/><circle cx="460.4" cy="161" r="1" fill="#86202e"/><circle cx="460.2" cy="162.8" r="1.1" fill="#9a2c3c"/><circle cx="460.6" cy="156.6" r="1" fill="#9a2c3c"/><circle cx="459" cy="158.2" r="1.3" fill="#86202e"/><circle cx="462.3" cy="161.4" r="1.5" fill="#86202e"/><circle cx="463.8" cy="161" r="1.1" fill="#9a2c3c"/><circle cx="458.5" cy="159.5" r="1.1" fill="#86202e"/></g>
<path d="M432 153l24-1.5 .3 2.4-24 1.5z" fill="#c85a66" stroke="#a84450" stroke-width="0.3"/>
<path d="M386.1 131.9L532.4 220.3M499.4 130.4L403.4 226.3" stroke="#9a9e9a" stroke-width="2.6" fill="none"/>
<path d="M386.1 131.9L532.4 220.3M499.4 130.4L403.4 226.3" stroke="#eef0ee" stroke-width="1.6" fill="none"/>
</g>
<path d="M473 150 A40 28.5 0 0 1 489 186 L493.5 183 A44 31.5 0 0 0 476 149Z" fill="#a9aca9" stroke="#8b908a" stroke-width="0.3"/>
<rect x="486.7" y="196.5" width="3.2" height="3" fill="#9fc282" stroke="#56764a" stroke-width="0.6" transform="translate(488.3 198) skewY(-51.1) translate(-488.3 -198)"/>
<rect x="479.4" y="203.3" width="3.2" height="3" fill="#9fc282" stroke="#56764a" stroke-width="0.6" transform="translate(481 204.8) skewY(-35.1) translate(-481 -204.8)"/>
<rect x="469.9" y="208.5" width="3.2" height="3" fill="#9fc282" stroke="#56764a" stroke-width="0.6" transform="translate(471.5 210) skewY(-21.6) translate(-471.5 -210)"/>
<rect x="458.9" y="211.6" width="3.2" height="3" fill="#9fc282" stroke="#56764a" stroke-width="0.6" transform="translate(460.5 213.1) skewY(-9.8) translate(-460.5 -213.1)"/>
<rect x="447.1" y="212.5" width="3.2" height="3" fill="#9fc282" stroke="#56764a" stroke-width="0.6" transform="translate(448.7 214) skewY(1.4) translate(-448.7 -214)"/>
<rect x="435.4" y="211" width="3.2" height="3" fill="#9fc282" stroke="#56764a" stroke-width="0.6" transform="translate(437 212.5) skewY(12.7) translate(-437 -212.5)"/>
<rect x="424.6" y="207.3" width="3.2" height="3" fill="#9fc282" stroke="#56764a" stroke-width="0.6" transform="translate(426.2 208.8) skewY(24.9) translate(-426.2 -208.8)"/>
<rect x="415.6" y="201.7" width="3.2" height="3" fill="#9fc282" stroke="#56764a" stroke-width="0.6" transform="translate(417.2 203.2) skewY(39) translate(-417.2 -203.2)"/>
<rect x="409.1" y="194.5" width="3.2" height="3" fill="#9fc282" stroke="#56764a" stroke-width="0.6" transform="translate(410.7 196) skewY(55.7) translate(-410.7 -196)"/>
<path d="M199.4 220.6L224.9 235.1L229.1 227.7L203.6 213.2Z" fill="#141514"/><path d="M199.4 219L224.9 233.5L229.1 226.1L203.6 211.6Z" fill="#232523"/><path d="M206.5 220.3L209.7 214.8L209.7 209.8L206.5 215.3Z" fill="#4e524f" stroke="#2a2c2a" stroke-width="0.3"/><path d="M201 217.2L206.5 220.3L206.5 215.3L201 212.2Z" fill="#5c605d" stroke="#2a2c2a" stroke-width="0.3"/><path d="M201 212.2L206.5 215.3L209.7 209.8L204.2 206.6Z" fill="#a2a5a3" stroke="#3a3c3a" stroke-width="0.3"/><path d="M212.9 223.9L216 218.4L216 213.4L212.9 218.9Z" fill="#4e524f" stroke="#2a2c2a" stroke-width="0.3"/><path d="M207.4 220.8L212.9 223.9L212.9 218.9L207.4 215.8Z" fill="#5c605d" stroke="#2a2c2a" stroke-width="0.3"/><path d="M207.4 215.8L212.9 218.9L216 213.4L210.5 210.3Z" fill="#a2a5a3" stroke="#3a3c3a" stroke-width="0.3"/><path d="M219.2 227.6L222.4 222L222.4 217L219.2 222.6Z" fill="#4e524f" stroke="#2a2c2a" stroke-width="0.3"/><path d="M213.8 224.5L219.2 227.6L219.2 222.6L213.8 219.5Z" fill="#5c605d" stroke="#2a2c2a" stroke-width="0.3"/><path d="M213.8 219.5L219.2 222.6L222.4 217L216.9 213.9Z" fill="#a2a5a3" stroke="#3a3c3a" stroke-width="0.3"/><path d="M225.6 231.2L228.8 225.6L228.8 220.6L225.6 226.2Z" fill="#4e524f" stroke="#2a2c2a" stroke-width="0.3"/><path d="M220.1 228.1L225.6 231.2L225.6 226.2L220.1 223.1Z" fill="#5c605d" stroke="#2a2c2a" stroke-width="0.3"/><path d="M220.1 223.1L225.6 226.2L228.8 220.6L223.3 217.5Z" fill="#a2a5a3" stroke="#3a3c3a" stroke-width="0.3"/>
<ellipse cx="200.3" cy="212.3" rx="1.1" ry="0.9" fill="#d8212a"/><ellipse cx="202" cy="216" rx="1.1" ry="0.9" fill="#d8212a"/><ellipse cx="227.3" cy="225.3" rx="1.1" ry="0.9" fill="#d8212a"/><ellipse cx="228" cy="227.6" rx="1.1" ry="0.9" fill="#d8212a"/>
<path d="M301.5 185.5L303 183.8L310.5 183.5L311.6 216.8L299 216Z" fill="#121312"/>
<rect x="300.8" y="187" width="7.5" height="4.9" fill="#7b7f7d"/>
<rect x="300.8" y="187" width="7.5" height="1.7" fill="#aeb1af"/>
<rect x="299.6" y="188.4" width="1.2" height="2.6" fill="#d8212a"/>
<rect x="300.4" y="192.7" width="7.9" height="4.9" fill="#7b7f7d"/>
<rect x="300.4" y="192.7" width="7.9" height="1.7" fill="#aeb1af"/>
<rect x="299.2" y="194.1" width="1.2" height="2.6" fill="#d8212a"/>
<rect x="300.1" y="198.4" width="8.2" height="4.9" fill="#7b7f7d"/>
<rect x="300.1" y="198.4" width="8.2" height="1.7" fill="#aeb1af"/>
<rect x="298.9" y="199.8" width="1.2" height="2.6" fill="#d8212a"/>
<rect x="299.8" y="204.1" width="8.6" height="4.9" fill="#7b7f7d"/>
<rect x="299.8" y="204.1" width="8.6" height="1.7" fill="#aeb1af"/>
<rect x="298.6" y="205.5" width="1.2" height="2.6" fill="#d8212a"/>
<rect x="299.4" y="209.8" width="8.9" height="4.9" fill="#7b7f7d"/>
<rect x="299.4" y="209.8" width="8.9" height="1.7" fill="#aeb1af"/>
<rect x="298.2" y="211.2" width="1.2" height="2.6" fill="#d8212a"/>
<ellipse cx="309.3" cy="212" rx="0.9" ry="1.1" fill="#d8212a"/><ellipse cx="307" cy="215.2" rx="0.9" ry="0.9" fill="#d8212a"/>
<path d="M375.4 251.7L417.4 224.5L413.6 218.7L371.6 245.9Z" fill="#141514"/><path d="M375.4 250.1L417.4 222.9L413.6 217.1L371.6 244.3Z" fill="#232523"/><path d="M409.8 226.1L406.2 220.5L406.2 215L409.8 220.6Z" fill="#6a6e6b" stroke="#2a2c2a" stroke-width="0.3"/><path d="M409.8 226.1L416.1 222L416.1 216.5L409.8 220.6Z" fill="#8c908d" stroke="#2a2c2a" stroke-width="0.3"/><path d="M409.8 220.6L416.1 216.5L412.5 211L406.2 215Z" fill="#b6b9b7" stroke="#3a3c3a" stroke-width="0.3"/><ellipse cx="414.1" cy="226.2" rx="1.8" ry="1.5" fill="#d8212a"/><path d="M402.5 230.8L398.9 225.3L398.9 219.8L402.5 225.3Z" fill="#6a6e6b" stroke="#2a2c2a" stroke-width="0.3"/><path d="M402.5 230.8L408.8 226.7L408.8 221.2L402.5 225.3Z" fill="#8c908d" stroke="#2a2c2a" stroke-width="0.3"/><path d="M402.5 225.3L408.8 221.2L405.2 215.7L398.9 219.8Z" fill="#b6b9b7" stroke="#3a3c3a" stroke-width="0.3"/><ellipse cx="406.8" cy="230.9" rx="1.8" ry="1.5" fill="#d8212a"/><path d="M395.2 235.5L391.6 230L391.6 224.5L395.2 230Z" fill="#6a6e6b" stroke="#2a2c2a" stroke-width="0.3"/><path d="M395.2 235.5L401.5 231.5L401.5 226L395.2 230Z" fill="#8c908d" stroke="#2a2c2a" stroke-width="0.3"/><path d="M395.2 230L401.5 226L397.9 220.4L391.6 224.5Z" fill="#b6b9b7" stroke="#3a3c3a" stroke-width="0.3"/><ellipse cx="399.5" cy="235.7" rx="1.8" ry="1.5" fill="#d8212a"/><path d="M387.9 240.3L384.3 234.7L384.3 229.2L387.9 234.8Z" fill="#6a6e6b" stroke="#2a2c2a" stroke-width="0.3"/><path d="M387.9 240.3L394.2 236.2L394.2 230.7L387.9 234.8Z" fill="#8c908d" stroke="#2a2c2a" stroke-width="0.3"/><path d="M387.9 234.8L394.2 230.7L390.6 225.2L384.3 229.2Z" fill="#b6b9b7" stroke="#3a3c3a" stroke-width="0.3"/><ellipse cx="392.2" cy="240.4" rx="1.8" ry="1.5" fill="#d8212a"/><path d="M380.6 245L377 239.5L377 234L380.6 239.5Z" fill="#6a6e6b" stroke="#2a2c2a" stroke-width="0.3"/><path d="M380.6 245L386.8 240.9L386.8 235.4L380.6 239.5Z" fill="#8c908d" stroke="#2a2c2a" stroke-width="0.3"/><path d="M380.6 239.5L386.8 235.4L383.3 229.9L377 234Z" fill="#b6b9b7" stroke="#3a3c3a" stroke-width="0.3"/><ellipse cx="384.8" cy="245.1" rx="1.8" ry="1.5" fill="#d8212a"/><path d="M375.3 250L380.8 246.4L380.8 242L377.2 236.5L371.7 240L371.7 244.4Z" fill="#151615"/><ellipse cx="378.3" cy="249.4" rx="1.6" ry="1.3" fill="#d8212a"/>
<ellipse cx="416.3" cy="217.6" rx="1.2" ry="1" fill="#d8212a"/>
<path d="M369 251.5L372.5 249L373.8 251L370.3 253.6Z" fill="#4a4d4a"/>
<ellipse cx="310" cy="308.6" rx="60" ry="51" fill="#cfd5cd" stroke="#9aa098" stroke-width="0.5"/>
<ellipse cx="310" cy="306.6" rx="60" ry="51" fill="#fdfdfd" stroke="#a4aaa2" stroke-width="0.5"/>
<clipPath id="hb"><ellipse cx="310" cy="306.6" rx="59.5" ry="50.5"/></clipPath>
<g clip-path="url(#hb)">
<path d="M294.9 276L271.4 237.2" stroke="#b8bcb8" stroke-width="1.6"/>
<path d="M294.9 276L271.4 237.2" stroke="#5e625e" stroke-width="0.5"/>
<path d="M280.8 290.1L233.8 275.1" stroke="#b8bcb8" stroke-width="1.6"/>
<path d="M280.8 290.1L233.8 275.1" stroke="#5e625e" stroke-width="0.5"/>
<path d="M323.1 276L346.6 237.2" stroke="#b8bcb8" stroke-width="1.6"/>
<path d="M323.1 276L346.6 237.2" stroke="#5e625e" stroke-width="0.5"/>
<path d="M337.2 290.1L384.2 275.1" stroke="#b8bcb8" stroke-width="1.6"/>
<path d="M337.2 290.1L384.2 275.1" stroke="#5e625e" stroke-width="0.5"/>
<path d="M335 312L378.3 334" stroke="#b8bcb8" stroke-width="1.6"/>
<path d="M335 312L378.3 334" stroke="#5e625e" stroke-width="0.5"/>
<path d="M323.1 322L346.6 360.8" stroke="#b8bcb8" stroke-width="1.6"/>
<path d="M323.1 322L346.6 360.8" stroke="#5e625e" stroke-width="0.5"/>
<path d="M294.9 322L271.4 360.8" stroke="#b8bcb8" stroke-width="1.6"/>
<path d="M294.9 322L271.4 360.8" stroke="#5e625e" stroke-width="0.5"/>
<path d="M282.5 311.2L238.4 331.9" stroke="#b8bcb8" stroke-width="1.6"/>
<path d="M282.5 311.2L238.4 331.9" stroke="#5e625e" stroke-width="0.5"/>
<path d="M291 318L281 349M330 318L345 343" stroke="#5a5e5a" stroke-width="2" fill="none"/>
<ellipse cx="309" cy="300" rx="38" ry="33" fill="#eceeec" stroke="#b8bcb8" stroke-width="0.5" opacity="0.85"/>
<path d="M306 265L331 266L332 274L306 273Z" fill="#8b9a7a" stroke="#565a52" stroke-width="0.4"/>
<path d="M318 266L330 266.5L330 272L318 271.5Z" fill="#4f8a45"/>
<path d="M311 266L317 266L317 270L311 270Z" fill="#a9683a"/>
<path d="M333 278L351 280L352 287L334 286Z" fill="#7d9b78"/>
<path d="M336 286l1-6 1 5 1.5-6 1 6 1.5-5 1 5.5 1.5-6 1 6.5 1.5-5 .8 5.2" stroke="#2f6b35" stroke-width="0.9" fill="none"/>
<path d="M339 306L351 303L352 322L342 326Z" fill="#a9adaa" stroke="#6e726e" stroke-width="0.4"/>
<path d="M341 309l9-2.5M341.5 313l9-2.5M342 317l9-2.5M342.5 321l8.5-2.5" stroke="#6e726e" stroke-width="0.5"/>
<circle cx="352.3" cy="306" r="1.8" fill="#2d7fe0"/>
<path d="M351 308l3 0 .6 7-3.8 0z" fill="#3b8ae6"/>
<path d="M296 333L312 332L313 340L297 341Z" fill="#c9b9a4" stroke="#7b7f7b" stroke-width="0.4"/>
<path d="M315 336.5L333.5 335L334 346.5L315.5 348.5Z" fill="#e0e2e0" stroke="#7b7f7b" stroke-width="0.4"/>
<path d="M297 338.5l15-1M297 342.5l15-1M316 340l17.5-1.5M316 344l17.8-1.6" stroke="#7b7f7b" stroke-width="0.5"/>
<path d="M265 303L275 300L279 324L271 328Z" fill="#dfe6ee" stroke="#9aa2ac" stroke-width="0.4"/>
<path d="M268 306l8 19" stroke="#74b0e4" stroke-width="0.8"/>
<path d="M284 262L297 258L299 268L286 273Z" fill="#b4b8b4" stroke="#6e726e" stroke-width="0.4"/>
<path d="M268 279L282 274L284 282L270 287Z" fill="#c6cac6" stroke="#8a8e8a" stroke-width="0.4"/>
<path d="M279.3 294.5v8A28 22.5 0 0 0 335.3 302.5v-8Z" fill="#8f938f" stroke="#4e514e" stroke-width="0.5"/>
<path d="M335 298.4v7" stroke="#d9dcd9" stroke-width="0.7"/>
<path d="M334.1 301.9v7" stroke="#d9dcd9" stroke-width="0.7"/>
<path d="M332.5 305.2v7" stroke="#d9dcd9" stroke-width="0.7"/>
<path d="M330.2 308.2v7" stroke="#d9dcd9" stroke-width="0.7"/>
<path d="M327.4 310.9v7" stroke="#d9dcd9" stroke-width="0.7"/>
<path d="M324.2 313.3v7" stroke="#d9dcd9" stroke-width="0.7"/>
<path d="M320.4 315.2v7" stroke="#d9dcd9" stroke-width="0.7"/>
<path d="M316.4 316.6v7" stroke="#d9dcd9" stroke-width="0.7"/>
<path d="M312.2 317.5v7" stroke="#d9dcd9" stroke-width="0.7"/>
<path d="M307.8 317.8v7" stroke="#d9dcd9" stroke-width="0.7"/>
<path d="M303.4 317.6v7" stroke="#d9dcd9" stroke-width="0.7"/>
<path d="M299.1 316.8v7" stroke="#d9dcd9" stroke-width="0.7"/>
<path d="M295 315.5v7" stroke="#d9dcd9" stroke-width="0.7"/>
<path d="M291.2 313.7v7" stroke="#d9dcd9" stroke-width="0.7"/>
<path d="M287.8 311.5v7" stroke="#d9dcd9" stroke-width="0.7"/>
<path d="M284.9 308.8v7" stroke="#d9dcd9" stroke-width="0.7"/>
<path d="M282.6 305.9v7" stroke="#d9dcd9" stroke-width="0.7"/>
<path d="M280.8 302.6v7" stroke="#d9dcd9" stroke-width="0.7"/>
<path d="M279.7 299.2v7" stroke="#d9dcd9" stroke-width="0.7"/>
<ellipse cx="307.3" cy="294.5" rx="28" ry="22.5" fill="#2b2d2b" stroke="#a3a7a3" stroke-width="1.3"/>
<clipPath id="cr"><ellipse cx="307.3" cy="294.5" rx="27.4" ry="21.9"/></clipPath>
<g clip-path="url(#cr)">
<path d="M279.3 294.5A28 22.5 0 0 1 335.3 294.5v9A28 22.5 0 0 0 279.3 303.5Z" fill="#7e827e"/>
<path d="M285 283l6.5-4.6 1 4.2-6.5 4.6zM296.5 276.6l8.5-1.8 .3 4.4-8.5 1.8zM309.5 274.6l8 .8-.3 4.6-8-.8zM321.5 276.8l6.5 3.6-1.6 4.2-6.3-3.6z" fill="#151615"/>
<path d="M298 277.8l5.4-1.1 .1 1.8-5.4 1.1z" fill="#3fae55"/>
<ellipse cx="307.8" cy="300.5" rx="23" ry="16.5" fill="#444744"/>
<ellipse cx="307.8" cy="299.5" rx="21.5" ry="15.5" fill="#2a2c2a"/>
<path d="M328 304.8L322.8 302.1" stroke="#8a8e8a" stroke-width="0.6"/>
<path d="M326.4 307.2L321.7 303.8" stroke="#8a8e8a" stroke-width="0.6"/>
<path d="M324.3 309.5L320.1 305.2" stroke="#8a8e8a" stroke-width="0.6"/>
<path d="M321.6 311.4L318.1 306.5" stroke="#8a8e8a" stroke-width="0.6"/>
<path d="M318.6 312.9L315.8 307.6" stroke="#8a8e8a" stroke-width="0.6"/>
<path d="M315.2 314.1L313.3 308.4" stroke="#8a8e8a" stroke-width="0.6"/>
<path d="M311.5 314.8L310.6 308.8" stroke="#8a8e8a" stroke-width="0.6"/>
<path d="M307.8 315L307.8 309" stroke="#8a8e8a" stroke-width="0.6"/>
<path d="M304.1 314.8L305 308.8" stroke="#8a8e8a" stroke-width="0.6"/>
<path d="M300.4 314.1L302.3 308.4" stroke="#8a8e8a" stroke-width="0.6"/>
<path d="M297.1 312.9L299.8 307.6" stroke="#8a8e8a" stroke-width="0.6"/>
<path d="M294 311.4L297.5 306.5" stroke="#8a8e8a" stroke-width="0.6"/>
<path d="M291.3 309.5L295.5 305.2" stroke="#8a8e8a" stroke-width="0.6"/>
<path d="M289.2 307.2L293.9 303.8" stroke="#8a8e8a" stroke-width="0.6"/>
<path d="M287.6 304.8L292.8 302.1" stroke="#8a8e8a" stroke-width="0.6"/>
<ellipse cx="307.8" cy="298.5" rx="16" ry="10.5" fill="#1f211f" stroke="#555855" stroke-width="0.5"/>
</g>
</g>
<g font-family="'Liberation Sans','Noto Sans CJK SC',sans-serif" font-weight="bold" text-anchor="middle">
<text transform="translate(64.9 137.7) rotate(-30.6)" x="0 15.56 31.11 46.67" y="6.08" font-size="16" fill="#f0801f">创造变异</text>
<text transform="translate(69.7 160.4) rotate(-31.7)" x="0 12.13 24.25 36.38 48.5 60.63 72.76" y="4.67" font-size="12.3" fill="#1272c8" stroke="#ffffff" stroke-width="1.4" stroke-linejoin="round" paint-order="stroke">加速新种质发现</text>
<text x="284.6 300.2 315.8 331.4" y="69.08" font-size="16" fill="#f0801f">鉴定变异</text>
<g font-size="12.3" fill="#1272c8" stroke="#ffffff" stroke-width="1.4" stroke-linejoin="round" paint-order="stroke">
<text transform="translate(266.7 85.2) rotate(-12.8)" y="4.67">加</text>
<text transform="translate(278.4 83) rotate(-9.1)" y="4.67">速</text>
<text transform="translate(290.2 81.5) rotate(-5.5)" y="4.67">种</text>
<text transform="translate(302.1 80.7) rotate(-1.8)" y="4.67">质</text>
<text transform="translate(313.9 80.7) rotate(1.8)" y="4.67">筛</text>
<text transform="translate(325.8 81.5) rotate(5.5)" y="4.67">选</text>
<text transform="translate(337.6 83) rotate(9.1)" y="4.67">鉴</text>
<text transform="translate(349.3 85.2) rotate(12.8)" y="4.67">定</text>
</g>
<text transform="translate(509.5 103) rotate(34)" x="0 15.92 31.84 47.76" y="6.08" font-size="16" fill="#f0801f">稳定变异</text>
<text transform="translate(491.9 118.7) rotate(34)" x="0 11.82 23.63 35.45 47.26 59.08" y="4.67" font-size="12.3" fill="#1272c8" stroke="#ffffff" stroke-width="1.4" stroke-linejoin="round" paint-order="stroke">加速种质稳定</text>
<g font-size="11.4" fill="#5d9b3d">
<text transform="translate(188.2 234.7) rotate(-46)" x="0 11.03" y="4.33">种质</text>
<text transform="translate(197.7 243.9) rotate(-46)" x="0 11.03" y="4.33">创新</text>
<text transform="translate(207.2 253) rotate(-46)" x="0 11.03" y="4.33">加速</text>
<text transform="translate(220.5 258.3) rotate(-46)" y="4.33">线</text>
</g>
<g font-size="11.2" fill="#5d9b3d">
<text x="322.6 333.4" y="196.76">种质</text>
<text x="322.6 333.4" y="209.76">鉴定</text>
<text x="322.6 333.4" y="222.76">加速</text>
<text x="328" y="235.76">线</text>
</g>
<g font-size="11.4" fill="#5d9b3d">
<text transform="translate(418.8 237.9) rotate(48)" x="0 11" y="4.33">基因</text>
<text transform="translate(409 246.7) rotate(48)" x="0 11" y="4.33">组合</text>
<text transform="translate(399.2 255.5) rotate(48)" x="0 11" y="4.33">加速</text>
<text transform="translate(393.1 268.4) rotate(48)" y="4.33">线</text>
</g>
<text transform="translate(150.1 191.8) rotate(-34.7)" x="0 12.87 25.74" y="4.86" font-size="12.8" fill="#ff1414">离子舱</text>
<text x="298.1 310 321.9" y="139.17" font-size="12.3" fill="#ff1414">逆境舱</text>
<text transform="translate(444.4 166.1) rotate(41.5)" x="0 13.18 26.36" y="4.86" font-size="12.8" fill="#ff1414">加代舱</text>
<g font-size="8.9" fill="#0c0c0c" stroke="#ffffff" stroke-width="1.6" stroke-linejoin="round" paint-order="stroke">
<text x="307.2 316 324.8 333.6" y="265.38">表型分析</text>
<text x="265.1 273.9 282.7 291.5" y="279.98">基因编辑</text>
<text x="333 341.8 350.6 359.4" y="282.08">环境控制</text>
<text x="338.3 347.1 355.9 364.7" y="303.58">定向进化</text>
<text x="257.1 265.9 274.7 283.5" y="306.78">基因分析</text>
<text x="290.8 299.6 308.4" y="347.98">基因库</text>
</g>
<text x="295.9 305.4 314.9 324.4" y="296.05" font-size="9.6" fill="#f7f000" stroke="#3a3a10" stroke-width="0.9" stroke-linejoin="round" paint-order="stroke">智能控制</text>
<text x="291.1 300.5 309.9 319.3 328.7" y="311.45" font-size="9.6" fill="#ff1414">大数据分析</text>
<text x="253.2 277.2 301.2 325.2 349.2 373.2" y="332.28" font-size="21" font-family="'Liberation Serif','Noto Serif CJK SC',serif" fill="#f2703a" stroke="#f2703a" stroke-width="1.1" stroke-linejoin="round" paint-order="stroke" opacity="0.85">智能育种中心</text>
</g>
</svg></body></html>
